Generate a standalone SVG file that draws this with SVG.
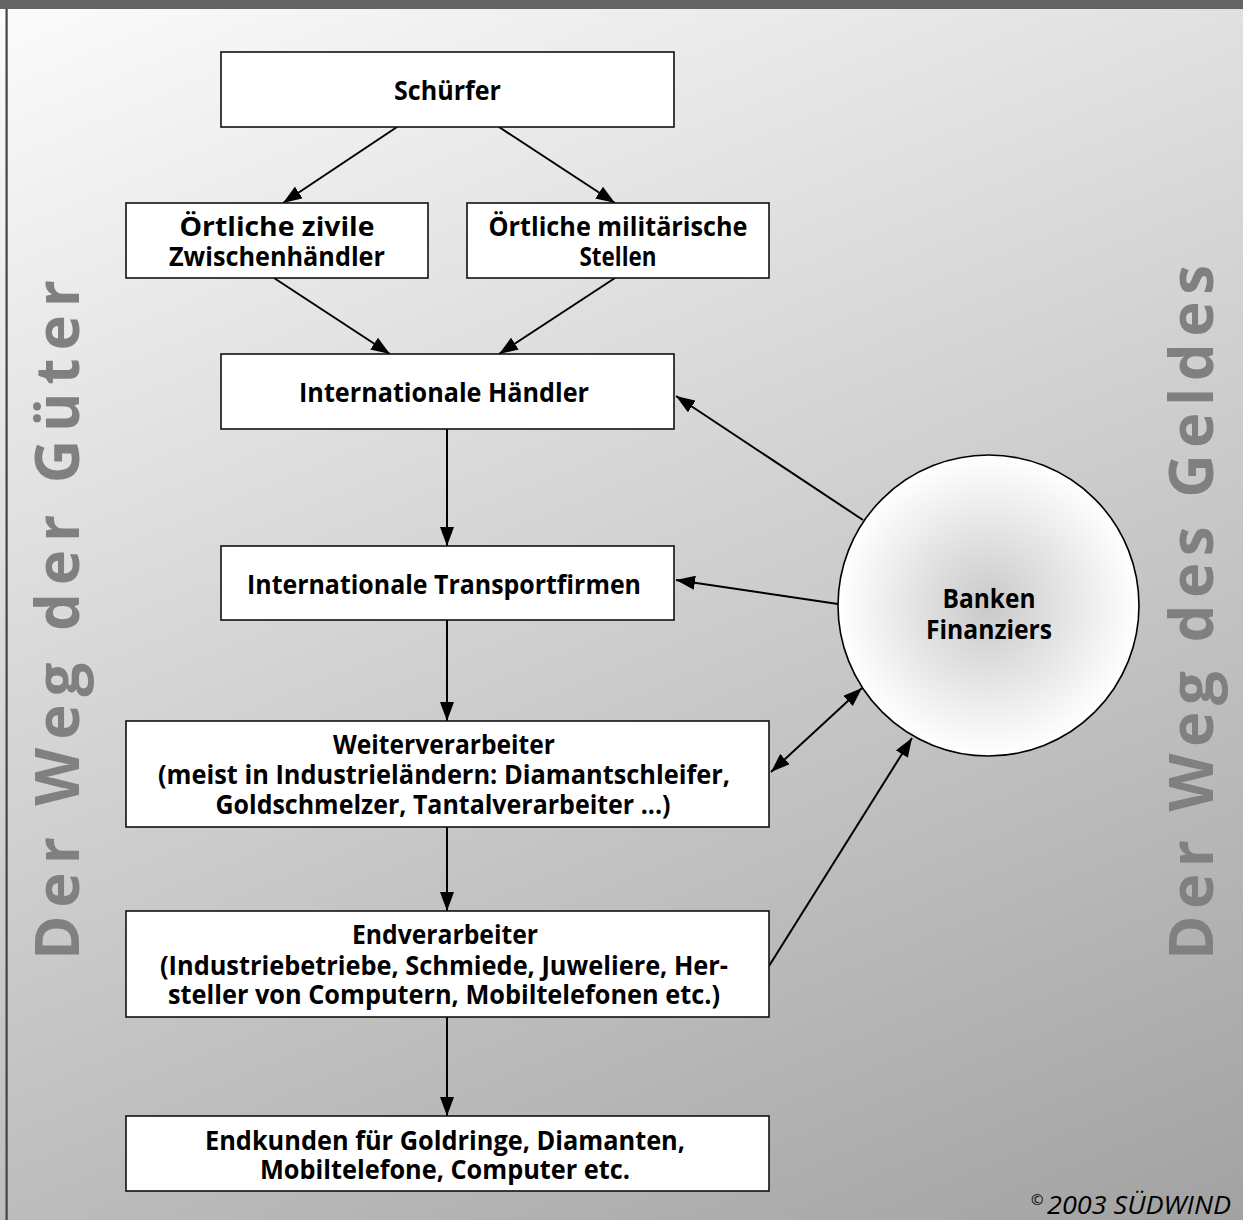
<svg xmlns="http://www.w3.org/2000/svg" width="1243" height="1220" viewBox="0 0 1243 1220">
<defs>
<linearGradient id="bg" gradientUnits="userSpaceOnUse" x1="8" y1="10" x2="615" y2="1477">
<stop offset="0" stop-color="#fbfbfb"/>
<stop offset="1" stop-color="#a2a2a2"/>
</linearGradient>
<radialGradient id="ball" cx="0.5" cy="0.5" r="0.5">
<stop offset="0" stop-color="#c9c9c9"/>
<stop offset="1" stop-color="#ffffff"/>
</radialGradient>
<marker id="ah" markerUnits="userSpaceOnUse" markerWidth="20" markerHeight="14" refX="19" refY="7" orient="auto-start-reverse">
<path d="M0,0 L19,7 L0,14 z" fill="#000"/>
</marker>
<style>
.box{fill:#fff;stroke:#111;stroke-width:1.6}
.t{font-family:"Open Sans","DejaVu Sans",sans-serif;font-weight:700;font-size:27px;fill:#000;text-anchor:middle}
.side{font-family:"Open Sans","DejaVu Sans",sans-serif;font-weight:700;font-size:60px;fill:#808080}
.c{fill:none;stroke:#000;stroke-width:2}
</style>
</defs>
<rect x="0" y="0" width="1243" height="1220" fill="url(#bg)"/>
<rect x="0" y="0" width="1243" height="9" fill="#636363"/>
<rect x="5.5" y="9" width="2.2" height="1211" fill="#444"/>

<text class="side" transform="translate(79,960) rotate(-90)" textLength="680" lengthAdjust="spacing">Der Weg der Güter</text>
<text class="side" transform="translate(1213,960) rotate(-90)" textLength="695" lengthAdjust="spacing">Der Weg des Geldes</text>

<g id="connectors">
<path class="c" marker-end="url(#ah)" d="M397,127 L283,203"/>
<path class="c" marker-end="url(#ah)" d="M499,127 L615,203"/>
<path class="c" marker-end="url(#ah)" d="M274,278 L390,354"/>
<path class="c" marker-end="url(#ah)" d="M615,278 L499,354"/>
<path class="c" marker-end="url(#ah)" d="M447,429 L447,546"/>
<path class="c" marker-end="url(#ah)" d="M447,620 L447,721"/>
<path class="c" marker-end="url(#ah)" d="M447,827 L447,911"/>
<path class="c" marker-end="url(#ah)" d="M447,1017 L447,1116"/>
<path class="c" marker-end="url(#ah)" d="M863,520 L676,396"/>
<path class="c" marker-end="url(#ah)" d="M838,604 L676,580"/>
<path class="c" marker-start="url(#ah)" marker-end="url(#ah)" d="M771,772 L862,688"/>
<path class="c" marker-end="url(#ah)" d="M769,966 L912,738"/>
</g>

<g id="schuerfer">
<rect class="box" x="221" y="52" width="453" height="75"/>
<text class="t" x="447.5" y="100" textLength="107" lengthAdjust="spacingAndGlyphs">Schürfer</text>
</g>
<g id="zivile">
<rect class="box" x="126" y="203" width="302" height="75"/>
<text class="t" x="277" y="236" textLength="195" lengthAdjust="spacingAndGlyphs">Örtliche zivile</text>
<text class="t" x="277" y="266" textLength="216" lengthAdjust="spacingAndGlyphs">Zwischenhändler</text>
</g>
<g id="militaerische">
<rect class="box" x="467" y="203" width="302" height="75"/>
<text class="t" x="618" y="236" textLength="259" lengthAdjust="spacingAndGlyphs">Örtliche militärische</text>
<text class="t" x="618" y="266" textLength="77" lengthAdjust="spacingAndGlyphs">Stellen</text>
</g>
<g id="haendler">
<rect class="box" x="221" y="354" width="453" height="75"/>
<text class="t" x="444" y="402" textLength="290" lengthAdjust="spacingAndGlyphs">Internationale Händler</text>
</g>
<g id="transport">
<rect class="box" x="221" y="546" width="453" height="74"/>
<text class="t" x="444" y="594" textLength="394" lengthAdjust="spacingAndGlyphs">Internationale Transportfirmen</text>
</g>
<g id="weiterverarbeiter">
<rect class="box" x="126" y="721" width="643" height="106"/>
<text class="t" x="444" y="754" textLength="222" lengthAdjust="spacingAndGlyphs">Weiterverarbeiter</text>
<text class="t" x="444" y="784" textLength="572" lengthAdjust="spacingAndGlyphs">(meist in Industrieländern: Diamantschleifer,</text>
<text class="t" x="443" y="814" textLength="455" lengthAdjust="spacingAndGlyphs">Goldschmelzer, Tantalverarbeiter ...)</text>
</g>
<g id="endverarbeiter">
<rect class="box" x="126" y="911" width="643" height="106"/>
<text class="t" x="445" y="944" textLength="186" lengthAdjust="spacingAndGlyphs">Endverarbeiter</text>
<text class="t" x="444" y="975" textLength="568" lengthAdjust="spacingAndGlyphs">(Industriebetriebe, Schmiede, Juweliere, Her-</text>
<text class="t" x="444" y="1004" textLength="552" lengthAdjust="spacingAndGlyphs">steller von Computern, Mobiltelefonen etc.)</text>
</g>
<g id="endkunden">
<rect class="box" x="126" y="1116" width="643" height="75"/>
<text class="t" x="445" y="1150" textLength="480" lengthAdjust="spacingAndGlyphs">Endkunden für Goldringe, Diamanten,</text>
<text class="t" x="445" y="1179" textLength="370" lengthAdjust="spacingAndGlyphs">Mobiltelefone, Computer etc.</text>
</g>
<g id="banken">
<circle cx="988.5" cy="605.5" r="150.5" fill="url(#ball)" stroke="#000" stroke-width="1.6"/>
<text class="t" x="989" y="608" textLength="93" lengthAdjust="spacingAndGlyphs">Banken</text>
<text class="t" x="989" y="639" textLength="126" lengthAdjust="spacingAndGlyphs">Finanziers</text>
</g>
<text x="1031" y="1214" font-family="'Open Sans','DejaVu Sans',sans-serif" font-style="italic" font-size="26" fill="#000"><tspan font-size="15" dy="-9">©</tspan><tspan dy="9" x="1047" textLength="184" lengthAdjust="spacingAndGlyphs">2003 SÜDWIND</tspan></text>
</svg>
